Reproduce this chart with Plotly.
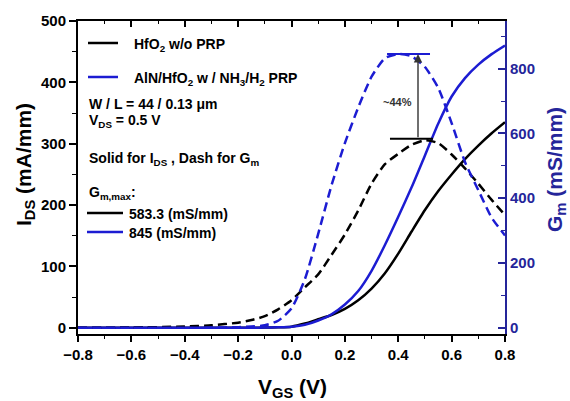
import plotly.graph_objects as go

# ---------------- data ----------------
vgs = [-0.8, -0.6, -0.4, -0.3, -0.2, -0.15, -0.1, -0.05,
       0.0, 0.05, 0.1, 0.15, 0.2, 0.25, 0.3, 0.35, 0.4, 0.45,
       0.5, 0.55, 0.6, 0.65, 0.7, 0.75, 0.8]

ids_hfo2 = [0, 0, 0, 0, 0.2, 0.3, 0.5, 1,
            2, 7, 14, 21, 31, 45, 64, 89, 121, 157,
            192, 223, 250, 275, 297, 317, 335]

ids_aln = [0, 0, 0, 0, 0.2, 0.3, 0.5, 1,
           2, 5, 12, 22, 38, 60, 93, 135, 181, 229,
           281, 333, 377, 407, 429, 446, 460]

gm_hfo2 = [0, 1, 4, 8, 16, 24, 36, 57,
           85, 125, 165, 225, 288, 362, 445, 505, 537, 565,
           579, 570, 535, 492, 445, 395, 348]

gm_aln = [0, 0, 0, 1, 2, 4, 8, 22,
          60, 150, 290, 440, 570, 680, 775, 832, 845, 838,
          805, 740, 632, 512, 425, 340, 285]

gm_max_hfo2 = 583.3
gm_max_aln = 845
arrow_vgs = 0.474

x_ticks = [-0.8, -0.6, -0.4, -0.2, 0.0, 0.2, 0.4, 0.6, 0.8]

BLACK = "#000000"
BLUE = "#1c1cd2"
NAVY = "#25259a"
FONT = "Liberation Sans"

fig = go.Figure()

fig.add_trace(go.Scatter(x=vgs, y=ids_hfo2, mode="lines",
                         line=dict(color=BLACK, width=2.5, shape="spline", smoothing=0.6),
                         showlegend=False))
fig.add_trace(go.Scatter(x=vgs, y=ids_aln, mode="lines",
                         line=dict(color=BLUE, width=2.5, shape="spline", smoothing=0.6),
                         showlegend=False))
fig.add_trace(go.Scatter(x=vgs, y=gm_hfo2, mode="lines", yaxis="y2",
                         line=dict(color=BLACK, width=2.5, dash="9px,5px", shape="spline", smoothing=0.6),
                         showlegend=False))
fig.add_trace(go.Scatter(x=vgs, y=gm_aln, mode="lines", yaxis="y2",
                         line=dict(color=BLUE, width=2.5, dash="9px,5px", shape="spline", smoothing=0.6),
                         showlegend=False))
# dummy trace for the top mirror axis
fig.add_trace(go.Scatter(x=[None], y=[None], xaxis="x2", yaxis="y",
                         showlegend=False, hoverinfo="skip"))

tickfont = dict(family=FONT, size=15, color=BLACK, weight="bold")

fig.update_layout(
    width=570, height=401,
    margin=dict(l=78, r=65, t=21, b=67),
    paper_bgcolor="white", plot_bgcolor="white",
    xaxis=dict(range=[-0.8, 0.8], tickvals=x_ticks, tickformat=".1f",
               ticks="outside", ticklen=6, tickwidth=1.5, tickcolor=BLACK,
               minor=dict(dtick=0.1, ticks="outside", ticklen=3, tickwidth=1.2, tickcolor=BLACK),
               showline=True, linecolor=BLACK, linewidth=2,
               showgrid=False, zeroline=False, tickfont=tickfont),
    xaxis2=dict(range=[-0.8, 0.8], overlaying="x", side="top", anchor="y",
                tickvals=x_ticks, ticks="inside", ticklen=6, tickwidth=1.5, tickcolor=BLACK,
                minor=dict(dtick=0.1, ticks="inside", ticklen=3, tickwidth=1.2, tickcolor=BLACK),
                showticklabels=False, showline=True, linecolor=BLACK, linewidth=2,
                showgrid=False, zeroline=False),
    yaxis=dict(range=[-10, 500], dtick=100, ticks="outside", ticklen=7, tickwidth=1.5,
               tickcolor=BLACK,
               minor=dict(dtick=50, ticks="outside", ticklen=4, tickwidth=1.2, tickcolor=BLACK),
               showline=True, linecolor=BLACK, linewidth=2,
               showgrid=False, zeroline=False, tickfont=tickfont),
    yaxis2=dict(range=[-19, 947], dtick=200, overlaying="y", side="right", anchor="x",
                ticks="inside", ticklen=7, tickwidth=1.5, tickcolor=NAVY,
                minor=dict(dtick=100, ticks="inside", ticklen=4, tickwidth=1.2, tickcolor=NAVY),
                showline=True, linecolor=NAVY, linewidth=2,
                showgrid=False, zeroline=False,
                tickfont=dict(family=FONT, size=15, color=NAVY, weight="bold")),
)

def px_x(px):
    return (px - 78) / 427.0

def px_y(py):
    return (334 - py) / 313.0

shapes = []
annotations = []

def legend_line(x0, x1, y, color):
    shapes.append(dict(type="line", xref="paper", yref="paper",
                       x0=px_x(x0), x1=px_x(x1), y0=px_y(y), y1=px_y(y),
                       line=dict(color=color, width=2.5)))

def text(s, x, y, size=14, color=BLACK, anchor="left", **kw):
    annotations.append(dict(text=s, x=px_x(x), y=px_y(y), xref="paper", yref="paper",
                            xanchor=anchor, yanchor="middle", showarrow=False,
                            font=dict(family=FONT, size=size, color=color, weight="bold"), **kw))

legend_line(88, 118, 43, BLACK)
text("HfO<sub>2</sub> w/o PRP", 132, 45)
legend_line(88, 118, 77, BLUE)
text("AlN/HfO<sub>2</sub> w / NH<sub>3</sub>/H<sub>2</sub> PRP", 132, 79)
text("W / L = 44 / 0.13 μm", 87, 104)
text("V<sub>DS</sub> = 0.5 V", 87, 121)
text("Solid for I<sub>DS</sub> , Dash for G<sub>m</sub>", 87, 159)
text("G<sub>m,max</sub>:", 87, 193)
legend_line(87, 123, 213, BLACK)
text("583.3 (mS/mm)", 127, 214)
legend_line(87, 123, 232, BLUE)
text("845 (mS/mm)", 127, 233)

# axis titles
text("I<sub>DS</sub> (mA/mm)", 25, 165, size=21, anchor="center", textangle=-90)
text("G<sub>m</sub> (mS/mm)", 556, 170, size=21, color=NAVY, anchor="center", textangle=-90)
text("V<sub>GS</sub> (V)", 292, 388, size=21, anchor="center")

# ~44% marker
shapes.append(dict(type="line", xref="x", yref="y2", x0=0.358, x1=0.519,
                   y0=gm_max_aln, y1=gm_max_aln, line=dict(color=BLUE, width=2)))
shapes.append(dict(type="line", xref="x", yref="y2", x0=0.369, x1=0.53,
                   y0=gm_max_hfo2, y1=gm_max_hfo2, line=dict(color=BLACK, width=2)))
annotations.append(dict(x=arrow_vgs, y=gm_max_aln, xref="x", yref="y2",
                        ax=arrow_vgs, ay=gm_max_hfo2, axref="x", ayref="y2",
                        showarrow=True, arrowhead=2, arrowsize=1.2, arrowwidth=1.4,
                        arrowcolor="#333333", text="", standoff=0, startstandoff=0))
text("~44%", 397, 102, size=11, color="#333333", anchor="center")

fig.update_layout(shapes=shapes, annotations=annotations)

fig.write_html("out.html",
               config={"displayModeBar": False},
               post_script="document.body.style.margin='0';document.body.style.overflow='hidden';")
